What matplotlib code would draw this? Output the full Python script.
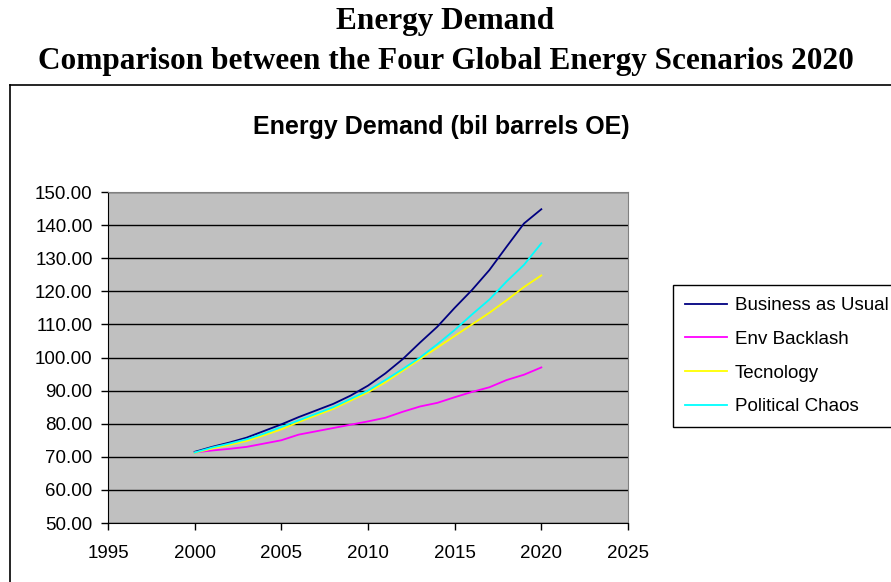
import matplotlib
matplotlib.use("Agg")
import matplotlib.pyplot as plt
from matplotlib.lines import Line2D

years = list(range(2000, 2021))
business_as_usual = [71.5, 73.0, 74.3, 75.8, 77.8, 79.8, 82.0, 84.0, 86.0, 88.5, 91.5,
                     95.2, 99.5, 104.5, 109.3, 115.0, 120.4, 126.4, 133.5, 140.5, 144.8]
env_backlash = [71.3, 71.9, 72.4, 73.0, 74.0, 75.0, 76.7, 77.7, 78.7, 79.7, 80.7,
                81.8, 83.6, 85.2, 86.3, 88.0, 89.6, 91.0, 93.2, 94.8, 97.0]
tecnology = [71.2, 72.5, 73.6, 74.8, 76.5, 78.3, 80.5, 82.5, 84.5, 87.0, 89.5,
             92.5, 96.0, 99.5, 103.0, 106.5, 110.0, 113.5, 117.3, 121.3, 124.8]
political_chaos = [71.3, 72.8, 74.0, 75.3, 77.0, 79.0, 81.0, 83.0, 85.0, 87.5, 90.0,
                   93.2, 96.5, 100.0, 104.0, 108.3, 113.0, 117.5, 123.0, 128.0, 134.5]

series = [
    ("Business as Usual", business_as_usual, "#000080"),
    ("Env Backlash", env_backlash, "#FF00FF"),
    ("Tecnology", tecnology, "#FFFF00"),
    ("Political Chaos", political_chaos, "#00FFFF"),
]
y_ticks = [50 + 10 * i for i in range(11)]
x_ticks = [1995, 2000, 2005, 2010, 2015, 2020, 2025]

fig = plt.figure(figsize=(8.91, 5.82), dpi=100)
W, H = 891, 582

# page heading
fig.text(0.5, 1 - 22 / H, "Energy Demand", ha="center", va="center",
         family="Liberation Serif", weight="bold", fontsize=22.5)
fig.text(0.5, 1 - 62 / H, "Comparison between the Four Global Energy Scenarios 2020",
         ha="center", va="center", family="Liberation Serif", weight="bold", fontsize=22.5)

# chart area border
fig.add_artist(Line2D([10 / W, 1.0], [1 - 85 / H, 1 - 85 / H], color="black", lw=1.2,
                      transform=fig.transFigure))
fig.add_artist(Line2D([10 / W, 10 / W], [1 - 85 / H, 0.0], color="black", lw=1.2,
                      transform=fig.transFigure))

fig.text(441 / W, 1 - 127 / H, "Energy Demand (bil barrels OE)", ha="center", va="center",
         family="Liberation Sans", weight="bold", fontsize=18)

ax = fig.add_axes([108 / W, 1 - 523 / H, 520 / W, 331 / H])
ax.set_facecolor("#C0C0C0")
for name, vals, color in series:
    ax.plot(years, vals, color=color, lw=1.3, label=name)

ax.set_xlim(1995, 2025)
ax.set_ylim(50, 150)
ax.set_xticks(x_ticks)
ax.set_yticks(y_ticks)
ax.set_yticklabels([f"{v:.2f}" for v in y_ticks])
ax.yaxis.grid(True, color="black", lw=1)
ax.set_axisbelow(True)
ax.tick_params(direction="out", length=5, width=1, labelsize=13.5)
for lab in ax.get_xticklabels() + ax.get_yticklabels():
    lab.set_family("Liberation Sans")
ax.tick_params(axis="x", pad=11)
ax.tick_params(axis="y", pad=6)
ax.spines["top"].set_color("#808080")
ax.spines["right"].set_color("#808080")
ax.spines["left"].set_color("black")
ax.spines["bottom"].set_color("black")

leg = ax.legend(loc="upper left", bbox_to_anchor=(673 / W, 1 - 285 / H),
                bbox_transform=fig.transFigure, frameon=True, fancybox=False,
                edgecolor="black", framealpha=1, borderpad=0.65, labelspacing=0.88,
                handlelength=2.25, handletextpad=0.4, borderaxespad=0,
                prop={"family": "Liberation Sans", "size": 13.5})
leg.get_frame().set_linewidth(1)

fig.savefig("out.png", dpi=100)
